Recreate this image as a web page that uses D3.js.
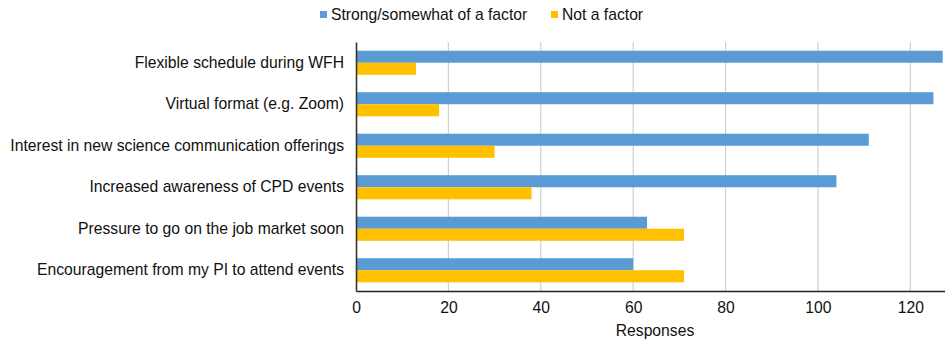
<!DOCTYPE html>
<html>
<head>
<meta charset="utf-8">
<script src="https://cdn.jsdelivr.net/npm/d3@7"></script>
<style>
  html, body { margin: 0; padding: 0; background: #fff; }
  svg { display: block; font-family: "Liberation Sans", Arial, sans-serif; }
</style>
</head>
<body>
<svg id="chart" width="945" height="341"></svg>
<script>
// Reasons for attending CPD events
const categories = [
  "Flexible schedule during WFH",
  "Virtual format (e.g. Zoom)",
  "Interest in new science communication offerings",
  "Increased awareness of CPD events",
  "Pressure to go on the job market soon",
  "Encouragement from my PI to attend events"
];
const seriesNames = ["Strong/somewhat of a factor", "Not a factor"];
const strongFactor = [127, 125, 111, 104, 63, 60];
const notFactor = [13, 18, 30, 38, 71, 71];
const xTicks = [0, 20, 40, 60, 80, 100, 120];
const xTitle = "Responses";

const colors = ["#5B9BD5", "#FFC000"];
const series = [strongFactor, notFactor];
const FONT = "15.7px";

const svg = d3.select("#chart");
const W = 945, H = 341;
const margin = { top: 42, right: 0, bottom: 50, left: 356 };
const plotW = W - margin.left - margin.right;
const plotH = H - margin.top - margin.bottom;

const x = d3.scaleLinear().domain([0, 127.5]).range([0, plotW]);
const y = d3.scaleBand().domain(categories).range([0, plotH]).paddingInner(0.42).paddingOuter(0.21);
const ySub = d3.scaleBand().domain(d3.range(series.length)).range([0, y.bandwidth()]);

const g = svg.append("g").attr("transform", `translate(${margin.left},${margin.top})`);

// vertical gridlines
g.append("g")
  .selectAll("line")
  .data(xTicks.filter(d => d > 0))
  .join("line")
  .attr("x1", d => x(d)).attr("x2", d => x(d))
  .attr("y1", 0).attr("y2", plotH)
  .attr("stroke", "#d0d0d0").attr("stroke-width", 1.2);

// bars
series.forEach((vals, si) => {
  g.append("g")
    .selectAll("rect")
    .data(categories)
    .join("rect")
    .attr("x", 0)
    .attr("y", c => y(c) + ySub(si))
    .attr("width", (c, i) => x(vals[i]))
    .attr("height", ySub.bandwidth())
    .attr("fill", colors[si]);
});

// x axis
const xAxis = g.append("g")
  .attr("transform", `translate(0,${plotH})`)
  .call(d3.axisBottom(x).tickValues(xTicks).tickSize(0).tickPadding(11));
xAxis.attr("font-size", FONT).attr("font-family", "\"Liberation Sans\", Arial, sans-serif");
xAxis.select(".domain").attr("stroke", "#222").attr("stroke-width", 1.3);
xAxis.selectAll("text").attr("fill", "#111");

// y axis
const yAxis = g.append("g")
  .call(d3.axisLeft(y).tickSize(0).tickPadding(12));
yAxis.attr("font-size", FONT).attr("font-family", "\"Liberation Sans\", Arial, sans-serif");
yAxis.select(".domain").attr("stroke", "#333").attr("stroke-width", 1.6);
yAxis.selectAll("text").attr("fill", "#111");

// axis title
svg.append("text")
  .attr("x", 655).attr("y", 336)
  .attr("text-anchor", "middle")
  .attr("font-size", FONT).attr("fill", "#111")
  .text(xTitle);

// legend
const legendPos = [320, 551];
const legend = svg.append("g");
seriesNames.forEach((name, i) => {
  legend.append("rect")
    .attr("x", legendPos[i]).attr("y", 11)
    .attr("width", 7).attr("height", 7)
    .attr("fill", colors[i]);
  legend.append("text")
    .attr("x", legendPos[i] + 11).attr("y", 20)
    .attr("font-size", FONT).attr("fill", "#111")
    .text(name);
});
</script>
</body>
</html>
